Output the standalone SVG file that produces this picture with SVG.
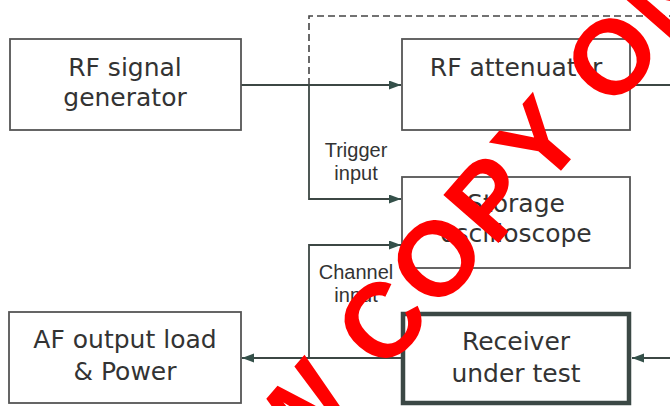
<svg xmlns="http://www.w3.org/2000/svg" width="670" height="406" viewBox="0 0 670 406">
<style>
.box{fill:#fff;stroke:#555;stroke-width:1.8}
.thick{fill:#fff;stroke:#3b4845;stroke-width:4.5}
.lbl{font-family:"DejaVu Sans",Verdana,sans-serif;font-size:25px;fill:#333;text-anchor:middle}
.sm{font-family:"Liberation Sans",Arial,sans-serif;font-size:20px;fill:#333;text-anchor:middle}
.ln{fill:none;stroke:#3c4744;stroke-width:1.8}
.dash{fill:none;stroke:#444;stroke-width:1.6;stroke-dasharray:7 4}
.wm{font-family:"Liberation Sans",Arial,sans-serif;font-weight:bold;font-size:106px;letter-spacing:4px;fill:#ff0000}
</style>
<defs>
<marker id="ah" markerUnits="userSpaceOnUse" markerWidth="13" markerHeight="10" refX="12" refY="4.5" orient="auto">
<path d="M0,0 L12,4.5 L0,9 z" fill="#34504a"/>
</marker>
</defs>
<rect width="670" height="406" fill="#fff"/>
<g id="connectors">
<path class="dash" d="M309,85 V16 H670"/>
<path class="ln" d="M241,85 H401" marker-end="url(#ah)"/>
<path class="ln" d="M309,85 V199 H401" marker-end="url(#ah)"/>
<path class="ln" d="M630,85 H670"/>
<path class="ln" d="M309,358 V245 H401" marker-end="url(#ah)"/>
<path class="ln" d="M401,358 H242" marker-end="url(#ah)"/>
<path class="ln" d="M670,358 H632" marker-end="url(#ah)"/>
</g>
<g id="rf-generator">
<rect class="box" x="10" y="39" width="231" height="91"/>
<text class="lbl" x="125" y="76">RF signal</text>
<text class="lbl" x="125" y="106">generator</text>
</g>
<g id="rf-attenuator">
<rect class="box" x="402" y="39" width="228" height="91"/>
<text class="lbl" x="516" y="76">RF attenuator</text>
</g>
<g id="oscilloscope">
<rect class="box" x="402" y="177" width="228" height="91"/>
<text class="lbl" x="516" y="212">Storage</text>
<text class="lbl" x="516" y="242">oscilloscope</text>
</g>
<g id="af-load">
<rect class="box" x="9" y="312" width="232" height="91"/>
<text class="lbl" x="125" y="348">AF output load</text>
<text class="lbl" x="125" y="380">&amp; Power</text>
</g>
<g id="receiver">
<rect class="thick" x="403" y="314" width="226" height="89"/>
<text class="lbl" x="516" y="350">Receiver</text>
<text class="lbl" x="516" y="382">under test</text>
</g>
<g id="labels">
<text class="sm" x="356" y="157">Trigger</text>
<text class="sm" x="356" y="180">input</text>
<text class="sm" x="356" y="279">Channel</text>
<text class="sm" x="356" y="302">input</text>
</g>
<text class="wm" transform="translate(294,478) rotate(-49)">W COPY ON</text>
</svg>
